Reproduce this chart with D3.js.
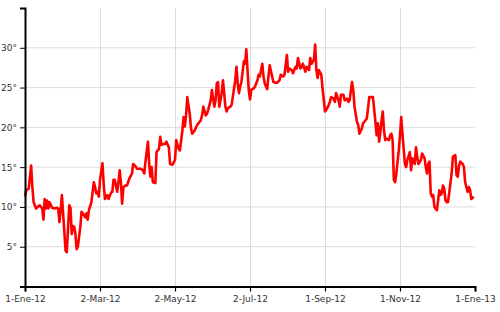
<!DOCTYPE html>
<html lang="es">
<head>
  <meta charset="UTF-8" />
  <title>Temperatura 2012</title>
  <script src="https://cdn.jsdelivr.net/npm/d3@7"></script>
  <style>
    body { margin: 0; background: #fff; }
    text { font-family: "DejaVu Sans", Verdana, sans-serif; font-size: 9px; fill: #333; }
    .grid line { stroke: #dcdcdc; stroke-width: 1; }
    .axis path, .axis line { stroke: #000; }
  </style>
</head>
<body>
<div id="chart"></div>
<script>
// days since 1 Jan 2012, and temperature in degrees
var days = [0,1,3,5,6,7,9,11,12,14,15,16,17,18,19,20,22,24,26,27,28,29,30,31,33,34,36,37,38,39,40,41,42,43,45,46,47,49,50,51,52,54,56,57,58,59,60,61,63,64,65,67,68,70,71,72,73,75,76,77,78,79,80,82,83,85,87,88,90,91,94,96,97,98,100,101,102,103,104,106,107,109,110,111,113,114,115,117,118,120,122,123,125,126,128,129,130,131,132,134,135,136,138,140,141,143,144,145,147,148,149,151,152,154,155,156,157,158,160,161,162,163,164,165,167,168,169,171,172,173,174,175,176,178,179,180,181,182,183,184,186,187,189,190,191,193,194,195,197,198,199,201,202,204,205,207,208,210,211,213,214,215,217,218,220,221,222,224,225,226,228,229,231,232,233,235,236,237,238,239,241,242,244,245,247,248,249,251,252,253,255,256,257,259,260,262,263,264,266,267,268,270,271,272,274,275,276,278,279,280,282,283,285,286,287,288,289,290,291,292,293,294,296,297,298,299,300,301,302,304,305,306,307,309,310,311,313,314,315,317,318,319,320,322,323,325,326,327,328,329,330,331,332,333,335,336,337,338,339,340,341,342,343,344,345,347,348,350,351,352,353,354,356,357,358,360,361,362,363,365];
var temps = [11.3,12.1,12.3,15.2,12.5,10.6,9.8,10.1,10.2,9.8,8.4,11.0,9.8,10.8,9.8,10.6,9.9,9.8,9.9,9.8,8.1,9.6,11.5,9.2,4.5,4.3,10.2,9.9,6.6,7.6,7.5,6.6,4.7,5.0,7.5,9.4,9.2,8.7,9.2,8.4,9.6,10.6,13.1,12.5,11.7,11.9,11.3,13.4,15.5,12.9,11.0,11.5,11.0,11.8,11.9,13.4,13.4,11.9,13.1,14.6,13.1,10.4,12.5,12.7,12.7,13.6,14.2,15.4,15.1,14.8,14.8,14.6,14.2,15.7,18.2,15.4,13.8,15.0,13.1,13.0,16.9,17.3,18.8,17.8,17.9,17.9,18.2,17.5,15.4,15.3,15.9,18.4,17.3,17.1,19.6,21.3,20.1,21.5,23.8,21.7,19.9,19.2,19.6,20.3,20.5,20.9,21.5,22.6,21.5,21.7,22.2,23.4,24.7,22.6,23.4,25.5,25.7,22.6,24.3,25.9,24.3,22.6,22.0,22.4,22.6,22.8,23.8,25.9,27.6,25.5,24.3,25.1,25.7,28.3,28.0,29.8,27.2,24.7,23.5,24.7,24.9,25.1,25.9,26.6,26.4,28.0,26.4,25.5,24.8,26.4,27.8,26.4,25.7,25.6,25.6,25.9,26.6,26.4,26.6,29.1,27.0,27.4,27.2,26.8,27.6,27.4,28.7,27.4,27.6,28.0,27.0,27.6,27.2,28.7,28.0,28.5,30.4,27.2,26.2,27.2,26.6,24.9,22.0,22.2,22.8,23.2,23.8,23.6,23.2,24.3,23.4,22.6,24.1,24.1,23.4,23.6,23.2,23.4,25.7,24.7,22.6,20.7,20.3,19.2,19.9,20.5,20.7,21.1,22.4,23.8,23.8,23.8,20.7,19.0,20.5,18.2,19.4,20.9,22.0,19.6,18.4,18.6,18.4,19.0,19.2,18.4,13.4,13.1,14.2,17.1,19.0,21.3,19.2,15.4,15.0,15.9,16.9,14.6,16.1,15.4,17.5,16.3,15.4,15.9,16.7,16.1,15.0,14.2,15.4,15.7,11.7,11.3,11.5,10.0,9.6,10.8,12.1,11.5,11.7,12.7,12.3,10.8,10.6,10.6,11.7,14.2,16.3,16.5,14.0,13.8,15.2,15.7,15.4,15.0,13.1,11.9,12.5,12.1,11.0,11.3];

// x ticks every 61 days
var tickDays = [0, 61, 122, 183, 244, 305, 366];
var tickLabels = ["1-Ene-12", "2-Mar-12", "2-May-12", "2-Jul-12", "1-Sep-12", "1-Nov-12", "1-Ene-13"];
var yTicks = [5, 10, 15, 20, 25, 30];

var w = 500, h = 312;
var m = {top: 8, right: 25, bottom: 25.5, left: 25};

function dayToDate(d) { return new Date(2012, 0, 1 + d); }

var data = days.map(function(d, i) { return {date: dayToDate(d), t: temps[i]}; });

var x = d3.scaleTime()
  .domain([dayToDate(0), dayToDate(366)])
  .range([m.left, w - m.right]);
var y = d3.scaleLinear()
  .domain([0, 35])
  .range([h - m.bottom, m.top]);

var svg = d3.select("#chart").append("svg")
  .attr("width", w)
  .attr("height", h);

// grid
var grid = svg.append("g").attr("class", "grid");
grid.selectAll(".hg")
  .data(yTicks)
  .enter().append("line")
  .attr("x1", m.left).attr("x2", w - m.right)
  .attr("y1", function(d) { return y(d); })
  .attr("y2", function(d) { return y(d); });
grid.selectAll(".vg")
  .data(tickDays.slice(1, -1))
  .enter().append("line")
  .attr("x1", function(d) { return Math.round(x(dayToDate(d))) + 0.5; })
  .attr("x2", function(d) { return Math.round(x(dayToDate(d))) + 0.5; })
  .attr("y1", m.top).attr("y2", h - m.bottom);

// line
var line = d3.line()
  .x(function(d) { return x(d.date); })
  .y(function(d) { return y(d.t); });

svg.append("path")
  .datum(data)
  .attr("fill", "none")
  .attr("stroke", "#ff0000")
  .attr("stroke-width", 2.6)
  .attr("stroke-linejoin", "round")
  .attr("d", line);

// axes
var xAxis = d3.axisBottom(x)
  .tickValues(tickDays.map(dayToDate))
  .tickFormat(function(d, i) { return tickLabels[i]; })
  .tickSizeOuter(0)
  .tickSize(5)
  .tickPadding(4);

var gx = svg.append("g")
  .attr("class", "axis")
  .attr("transform", "translate(0," + (h - m.bottom) + ")")
  .call(xAxis);
gx.select(".domain").attr("stroke-width", 2);
gx.selectAll(".tick line").attr("stroke-width", 1.2);
gx.selectAll("text").attr("fill", "#333").attr("font-size", "9px").attr("font-family", "DejaVu Sans, Verdana, sans-serif");

var yAxis = d3.axisLeft(y)
  .tickValues(yTicks)
  .tickFormat(function(d) { return d + "°"; })
  .tickSizeOuter(0)
  .tickSize(5)
  .tickPadding(3);

var gy = svg.append("g")
  .attr("class", "axis")
  .attr("transform", "translate(" + m.left + ",0)")
  .call(yAxis);
gy.select(".domain").attr("stroke-width", 2);
gy.selectAll(".tick line").attr("stroke", "#999");
gy.selectAll("text").attr("fill", "#333").attr("font-size", "9px").attr("font-family", "DejaVu Sans, Verdana, sans-serif");
</script>
</body>
</html>
